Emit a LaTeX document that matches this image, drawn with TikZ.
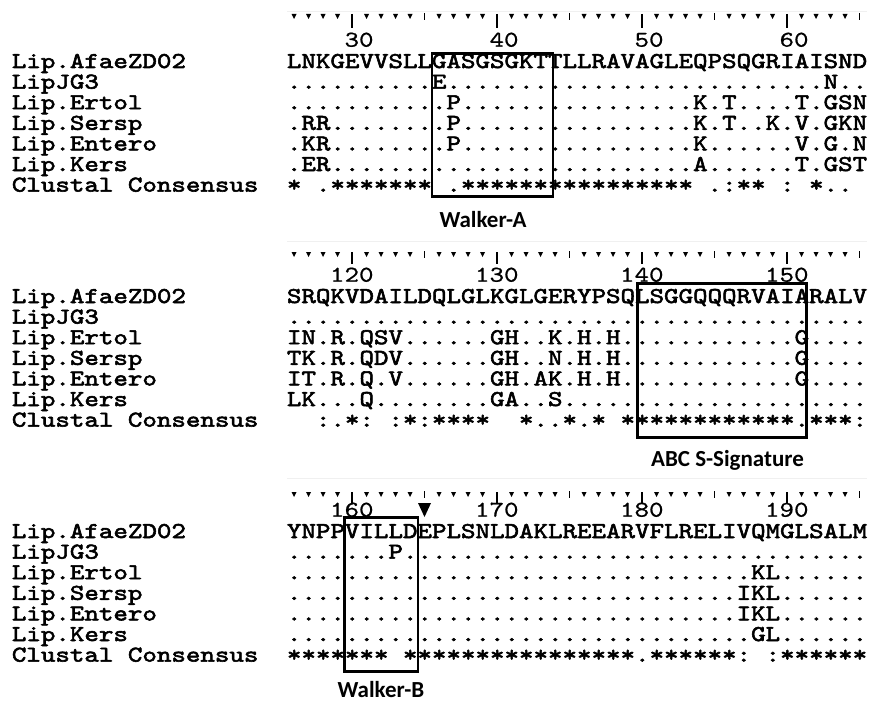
\documentclass[tikz,border=0pt]{standalone}
\usepackage{fontspec}
\usepackage{tikz}
\newfontfamily\seqfont{lmmono10-regular.otf}[FakeStretch=1.2225,FakeBold=2.5]
\newfontfamily\numfont{lmmono10-regular.otf}[FakeStretch=1.2225,FakeBold=0.6]
\newfontfamily\motiffont{Carlito}
\newcommand\cgap{\hphantom{.}}

\tikzset{
  seqrow/.style={anchor=base west,inner sep=0pt,font={\seqfont\fontsize{22.6}{24}\selectfont}},
  seqname/.style={seqrow},
  numlbl/.style={anchor=base east,inner sep=0pt,font={\numfont\fontsize{22.6}{24}\selectfont}},
  motif/.style={anchor=base,inner sep=0pt,font={\motiffont\bfseries\fontsize{23}{24}\selectfont}},
  motifbox/.style={line width=2.5pt},
  rulertick/.style={line width=1.2pt}
}

\newcommand\seqruler[3]{%
  \draw[gray!12] (287,#3) -- (867,#3);
  \foreach \i in {0,...,39}{%
    \pgfmathtruncatemacro\tk{mod(\i+1,5)==0 ? (mod(\i+6,10)==0 ? 2 : 1) : 0}%
    \ifcase\tk
      \fill ({294+14.5*\i-2.5},#1) -- ++(5,0) -- ++(-2.5,5) -- cycle;
    \or
      \draw[rulertick] ({294+14.5*\i},#1-1) -- ++(0,7);
    \or
      \draw[rulertick] ({294+14.5*\i},#1) -- ++(0,#2);
    \fi}}

\begin{document}
\begin{tikzpicture}[x=1pt,y=-1pt]
\fill[white] (0,0) rectangle (869,706);
\useasboundingbox (0,0) rectangle (869,706);

\seqruler{14}{14}{11.5}
\node[numlbl] (nA30) at (373.75,46.7) {30};
\node[numlbl] (nA40) at (518.75,46.7) {40};
\node[numlbl] (nA50) at (663.75,46.7) {50};
\node[numlbl] (nA60) at (808.75,46.7) {60};
\node[seqname] (labA1) at (11.7,68) {Lip.AfaeZD02};
\node[seqname] (labA2) at (11.7,88.6) {LipJG3};
\node[seqname] (labA3) at (11.7,109.2) {Lip.Ertol};
\node[seqname] (labA4) at (11.7,129.8) {Lip.Sersp};
\node[seqname] (labA5) at (11.7,150.4) {Lip.Entero};
\node[seqname] (labA6) at (11.7,171) {Lip.Kers};
\node[seqname] (labA7) at (11.7,191.6) {Clustal Consensus};
\node[seqrow] (rowA1) at (286.75,68) {LNKGEVVSLLGASGSGKTTLLRAVAGLEQPSQGRIAISND};
\node[seqrow] (rowA2) at (286.75,88.6) {..........E..........................N..};
\node[seqrow] (rowA3) at (286.75,109.2) {...........P................K.T....T.GSN};
\node[seqrow] (rowA4) at (286.75,129.8) {.RR........P................K.T..K.V.GKN};
\node[seqrow] (rowA5) at (286.75,150.4) {.KR........P................K......V.G.N};
\node[seqrow] (rowA6) at (286.75,171) {.ER.........................A......T.GST};
\node[seqrow] (rowA7) at (286.75,191.6) {*\cgap.*******\cgap.****************\cgap.:**\cgap:\cgap*..};
\draw[motifbox] (432,53.3) rectangle (553,196.7);
\node[motif] (walkerA) at (483,227.5) {Walker-A};

\begin{scope}[yshift=-235pt]
\seqruler{17}{12}{6}
\node[numlbl] (nB120) at (373.75,46.7) {120};
\node[numlbl] (nB130) at (518.75,46.7) {130};
\node[numlbl] (nB140) at (663.75,46.7) {140};
\node[numlbl] (nB150) at (808.75,46.7) {150};
\node[seqname] (labB1) at (11.7,68) {Lip.AfaeZD02};
\node[seqname] (labB2) at (11.7,88.6) {LipJG3};
\node[seqname] (labB3) at (11.7,109.2) {Lip.Ertol};
\node[seqname] (labB4) at (11.7,129.8) {Lip.Sersp};
\node[seqname] (labB5) at (11.7,150.4) {Lip.Entero};
\node[seqname] (labB6) at (11.7,171) {Lip.Kers};
\node[seqname] (labB7) at (11.7,191.6) {Clustal Consensus};
\node[seqrow] (rowB1) at (286.75,68) {SRQKVDAILDQLGLKGLGERYPSQLSGGQQQRVAIARALV};
\node[seqrow] (rowB2) at (286.75,88.6) {........................................};
\node[seqrow] (rowB3) at (286.75,109.2) {IN.R.QSV......GH..K.H.H............G....};
\node[seqrow] (rowB4) at (286.75,129.8) {TK.R.QDV......GH..N.H.H............G....};
\node[seqrow] (rowB5) at (286.75,150.4) {IT.R.Q.V......GH.AK.H.H............G....};
\node[seqrow] (rowB6) at (286.75,171) {LK...Q........GA..S.....................};
\node[seqrow] (rowB7) at (286.75,191.6) {\cgap\cgap:.*:\cgap:*:****\cgap\cgap*..*.*\cgap************.***:};
\draw[motifbox] (637.3,48.3) rectangle (806.3,202.3);
\node[motif] (abcsig) at (727.5,231.7) {ABC S-Signature};
\end{scope}

\begin{scope}[yshift=-470pt]
\seqruler{22}{11}{8}
\node[numlbl] (nC160) at (373.75,46.7) {160};
\node[numlbl] (nC170) at (518.75,46.7) {170};
\node[numlbl] (nC180) at (663.75,46.7) {180};
\node[numlbl] (nC190) at (808.75,46.7) {190};
\fill (418,33) -- (431,33) -- (424.5,47) -- cycle;
\node[seqname] (labC1) at (11.7,68) {Lip.AfaeZD02};
\node[seqname] (labC2) at (11.7,88.6) {LipJG3};
\node[seqname] (labC3) at (11.7,109.2) {Lip.Ertol};
\node[seqname] (labC4) at (11.7,129.8) {Lip.Sersp};
\node[seqname] (labC5) at (11.7,150.4) {Lip.Entero};
\node[seqname] (labC6) at (11.7,171) {Lip.Kers};
\node[seqname] (labC7) at (11.7,191.6) {Clustal Consensus};
\node[seqrow] (rowC1) at (286.75,68) {YNPPVILLDEPLSNLDAKLREEARVFLRELIVQMGLSALM};
\node[seqrow] (rowC2) at (286.75,88.6) {.......P................................};
\node[seqrow] (rowC3) at (286.75,109.2) {................................KL......};
\node[seqrow] (rowC4) at (286.75,129.8) {...............................IKL......};
\node[seqrow] (rowC5) at (286.75,150.4) {...............................IKL......};
\node[seqrow] (rowC6) at (286.75,171) {................................GL......};
\node[seqrow] (rowC7) at (286.75,191.6) {*******\cgap****************.******:\cgap:******};
\draw[motifbox] (344.5,47.7) rectangle (418,201.7);
\node[motif] (walkerB) at (381,227.7) {Walker-B};
\end{scope}
\end{tikzpicture}
\end{document}
